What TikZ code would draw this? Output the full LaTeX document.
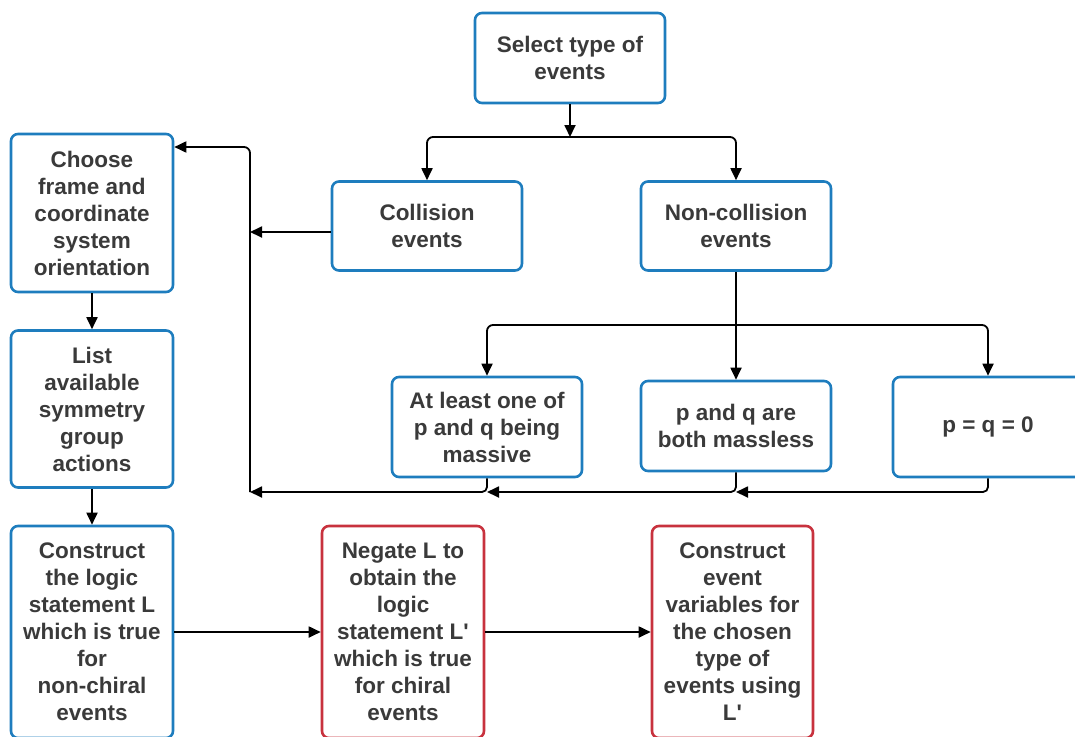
\documentclass[tikz,border=0pt]{standalone}
\usepackage{fontspec}
\newfontfamily\lsans{Liberation Sans}
\usetikzlibrary{arrows.meta}
\definecolor{boxblue}{RGB}{30,125,190}
\definecolor{boxred}{RGB}{200,50,62}
\definecolor{txt}{RGB}{58,58,58}
\tikzset{
  bx/.style={draw=boxblue, line width=2.6pt, rounded corners=7pt, fill=white,
    align=center, text=txt, font=\lsans\fontsize{22.5}{27}\selectfont\bfseries,
    inner sep=0pt},
  rbx/.style={bx, draw=boxred},
  arr/.style={draw=black, line width=1.8pt, -{Triangle[length=12pt,width=11pt]}},
  ln/.style={draw=black, line width=1.8pt},
}
\begin{document}
\begin{tikzpicture}[x=1pt,y=-1pt]
\useasboundingbox (0,0) rectangle (1075,736);
% nodes
\node[bx, minimum width=190pt, minimum height=90pt] (sel) at (570,58) {Select type of\\events};
\node[bx, minimum width=190pt, minimum height=89pt] (col) at (427,226) {Collision\\events};
\node[bx, minimum width=190pt, minimum height=89pt] (non) at (736,226) {Non-collision\\events};
\node[bx, minimum width=162pt, minimum height=158pt] (cho) at (92,213) {Choose\\frame and\\coordinate\\system\\orientation};
\node[bx, minimum width=162pt, minimum height=157pt] (lis) at (92,409) {List\\available\\symmetry\\group\\actions};
\node[bx, minimum width=162pt, minimum height=212pt] (con) at (92,632) {Construct\\the logic\\statement L\\which is true\\for\\non-chiral\\events};
\node[bx, minimum width=190pt, minimum height=100pt] (mas) at (487,427) {At least one of\\p and q being\\massive};
\node[bx, minimum width=190pt, minimum height=90pt] (mls) at (736,426) {p and q are\\both massless};
\node[bx, minimum width=190pt, minimum height=100pt] (pqz) at (988,427) {p = q = 0};
\node[rbx, minimum width=162pt, minimum height=212pt] (neg) at (403,632) {Negate L to\\obtain the\\logic\\statement L'\\which is true\\for chiral\\events};
\node[rbx, minimum width=161pt, minimum height=212pt] (cev) at (732.5,632) {Construct\\event\\variables for\\the chosen\\type of\\events using\\L'};
% junction coordinates
\coordinate (j1) at (570,137);
\coordinate (j2) at (736,325);
\coordinate (bustop) at (250,147);
\coordinate (busbot) at (250,492);
\coordinate (cola) at (250,232);
% connectors
\draw[arr] (sel.south) -- (j1);
\draw[arr, rounded corners=6pt] (j1) -| (col.north);
\draw[arr, rounded corners=6pt] (j1) -| (non.north);
\draw[arr] (cola -| col.west) -- (cola);
\draw[arr, rounded corners=6pt] (busbot) -- (bustop) -- (bustop -| cho.east);
\draw[ln] (non.south) -- (j2);
\draw[arr, rounded corners=6pt] (j2) -| (mas.north);
\draw[arr] (j2) -- (mls.north);
\draw[arr, rounded corners=6pt] (j2) -| (pqz.north);
\draw[arr, rounded corners=5pt] (mas.south) |- (busbot);
\draw[arr, rounded corners=5pt] (mls.south) |- (busbot -| mas.south);
\draw[arr, rounded corners=5pt] (pqz.south) |- (busbot -| mls.south);
\draw[arr] (cho.south) -- (lis.north);
\draw[arr] (lis.south) -- (con.north);
\draw[arr] (con.east) -- (neg.west);
\draw[arr] (neg.east) -- (cev.west);
\end{tikzpicture}
\end{document}
